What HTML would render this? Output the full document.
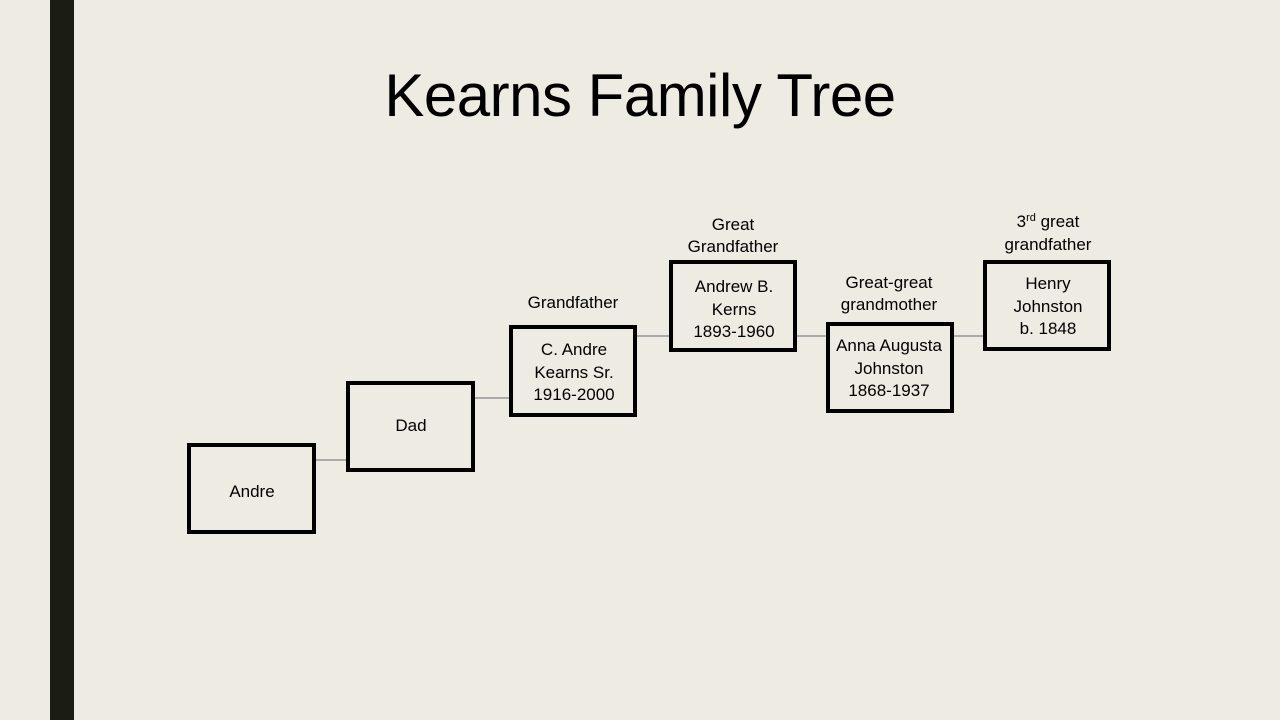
<!DOCTYPE html>
<html><head><meta charset="utf-8"><style>
html,body{margin:0;padding:0;width:1280px;height:720px;overflow:hidden;background:#EEEBE3;}
svg{display:block;}
text{font-family:"Liberation Sans",sans-serif;fill:#000;text-anchor:middle;}
</style></head><body>
<svg width="1280" height="720" xmlns="http://www.w3.org/2000/svg">
<rect x="0" y="0" width="1280" height="720" fill="#EEEBE3"/>
<rect x="50" y="0" width="24" height="720" fill="#1B1D12"/>
<text x="640" y="116" font-size="60" style="letter-spacing:-0.5px">Kearns Family Tree</text>
<g stroke="#aaa" stroke-width="2">
<line x1="315" y1="460" x2="347" y2="460"/>
<line x1="475" y1="398" x2="510" y2="398"/>
<line x1="637" y1="336" x2="670" y2="336"/>
<line x1="797" y1="336" x2="827" y2="336"/>
<line x1="954" y1="336" x2="985" y2="336"/>
</g>
<g fill="none" stroke="#000" stroke-width="4">
<rect x="189" y="445" width="125" height="87"/>
<rect x="348" y="383" width="125" height="87"/>
<rect x="511" y="327" width="124" height="88"/>
<rect x="671" y="262" width="124" height="88"/>
<rect x="828" y="324" width="124" height="87"/>
<rect x="985" y="262" width="124" height="87"/>
</g>
<g font-size="17">
<text x="252" y="497">Andre</text>
<text x="411" y="431">Dad</text>
<text x="573" y="308">Grandfather</text>
<text x="574" y="355">C. Andre</text>
<text x="574" y="378">Kearns Sr.</text>
<text x="574" y="400">1916-2000</text>
<text x="733" y="230">Great</text>
<text x="733" y="252">Grandfather</text>
<text x="734" y="292">Andrew B.</text>
<text x="734" y="315">Kerns</text>
<text x="734" y="337">1893-1960</text>
<text x="889" y="288">Great-great</text>
<text x="889" y="310">grandmother</text>
<text x="889" y="351">Anna Augusta</text>
<text x="889" y="374">Johnston</text>
<text x="889" y="396">1868-1937</text>
<text x="1048" y="227">3<tspan font-size="11" dy="-6">rd</tspan><tspan dy="6"> great</tspan></text>
<text x="1048" y="250">grandfather</text>
<text x="1048" y="289">Henry</text>
<text x="1048" y="312">Johnston</text>
<text x="1048" y="334">b. 1848</text>
</g>
</svg>
</body></html>
